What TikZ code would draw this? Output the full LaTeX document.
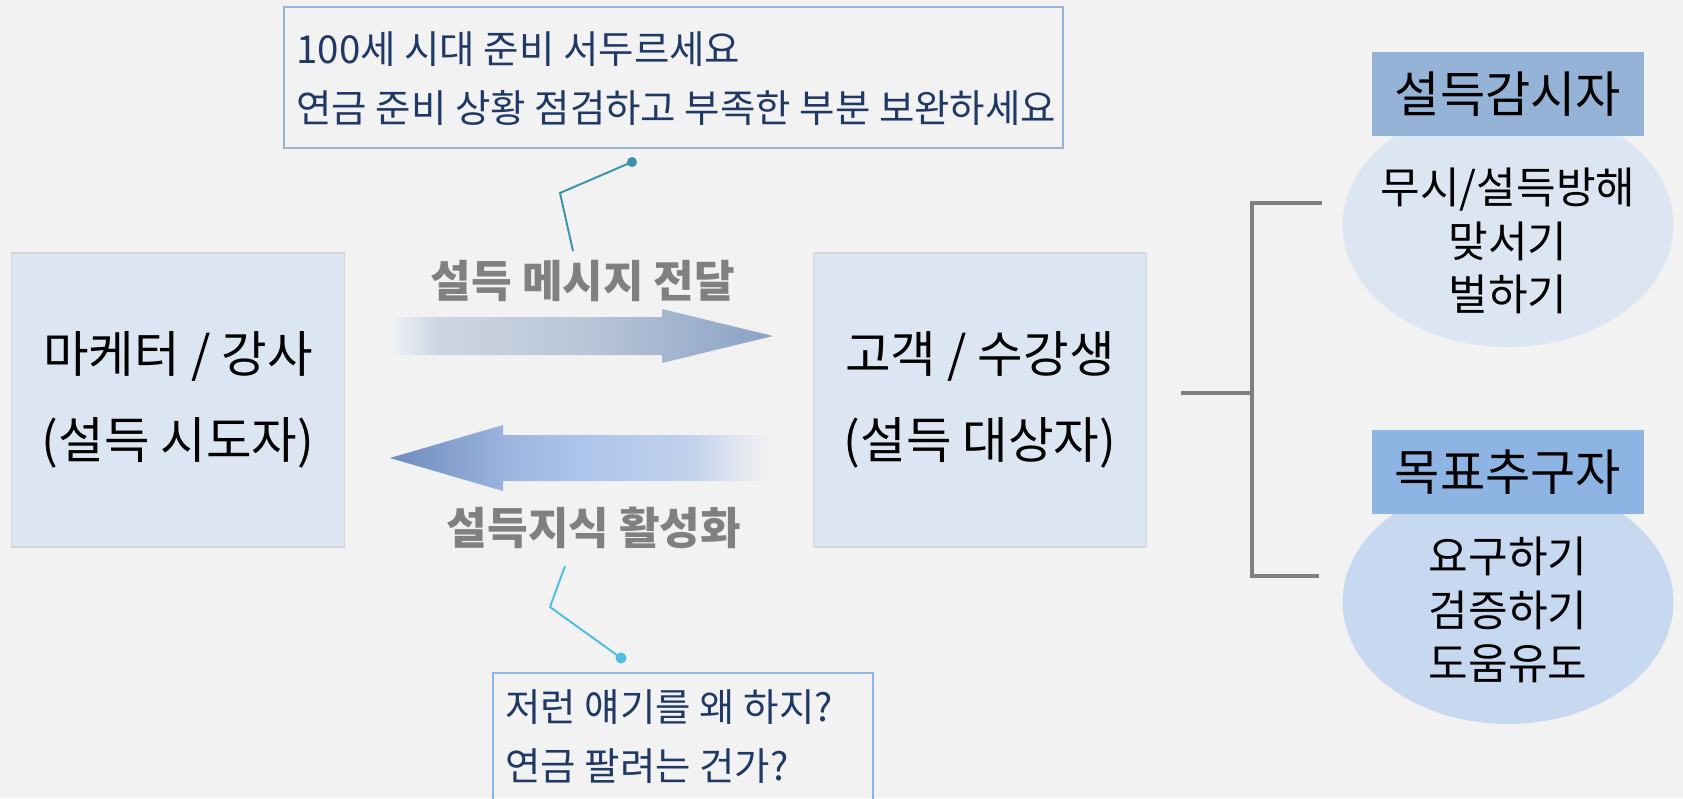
\documentclass[tikz,border=0pt]{standalone}
\usepackage{fontspec}
\setmainfont{Noto Sans CJK KR}
\usetikzlibrary{shapes.geometric}
\definecolor{bgc}{RGB}{242,242,242}
\definecolor{boxfill}{RGB}{220,230,242}
\definecolor{boxline}{RGB}{214,214,214}
\definecolor{navy}{RGB}{31,56,100}
\definecolor{notebd1}{RGB}{149,179,215}
\definecolor{notebd2}{RGB}{142,180,227}
\definecolor{teal1}{RGB}{58,146,172}
\definecolor{cyan1}{RGB}{78,190,224}
\definecolor{role1}{RGB}{149,179,215}
\definecolor{role2}{RGB}{142,180,227}
\definecolor{oval1}{RGB}{220,230,242}
\definecolor{oval2}{RGB}{198,217,241}
\definecolor{ra1}{RGB}{238,240,243}
\definecolor{ra2}{RGB}{205,213,226}
\definecolor{ra3}{RGB}{185,198,216}
\definecolor{ra4}{RGB}{138,162,198}
\definecolor{la1}{RGB}{108,138,188}
\definecolor{la2}{RGB}{155,180,222}
\definecolor{la3}{RGB}{172,197,235}
\definecolor{la4}{RGB}{195,210,236}
\definecolor{la5}{RGB}{222,228,240}
\pgfdeclarehorizontalshading{sendshade}{100bp}{color(0bp)=(bgc); color(25bp)=(ra1); color(31bp)=(ra2); color(50bp)=(ra3); color(75bp)=(ra4); color(100bp)=(ra4)}
\pgfdeclarehorizontalshading{backshade}{100bp}{color(0bp)=(la1); color(25bp)=(la1); color(40bp)=(la2); color(50bp)=(la3); color(65bp)=(la4); color(70bp)=(la5); color(75bp)=(bgc); color(100bp)=(bgc)}
\tikzstyle{party} = [rectangle, minimum width=6.66cm, minimum height=5.88cm, fill=boxfill, draw=boxline, line width=0.9pt, align=center, font=\fontsize{28.2}{49}\selectfont]
\tikzstyle{note} = [align=left, anchor=west, text=navy, inner sep=0pt, font=\fontsize{21.9}{33.5}\selectfont]
\tikzstyle{tag} = [text=black!50, font=\fontsize{25.1}{30}\selectfont\bfseries]
\tikzstyle{role} = [rectangle, minimum width=5.46cm, minimum height=1.68cm, inner sep=0pt, font=\fontsize{28}{32}\selectfont]
\tikzstyle{oval} = [ellipse, minimum width=6.62cm, minimum height=4.88cm, inner sep=0pt]
\tikzstyle{ovaltext} = [align=center, font=\fontsize{24.5}{30.5}\selectfont]
\tikzstyle{brace} = [draw=black!50, line width=2.2pt]

\begin{document}
\begin{tikzpicture}[x=0.02cm,y=-0.02cm]
	\useasboundingbox[fill=bgc] (0,0) rectangle (1683,798);
	\clip (0,0) rectangle (1683,798);
	\node (mkt) at (178,400) [party] {마케터 / 강사\\(설득 시도자)};
	\node (cli) at (980,400) [party] {고객 / 수강생\\(설득 대상자)};
	\shade[shading=sendshade] (393,317) -- (662,317) -- (662,309) -- (773,336) -- (662,363) -- (662,355) -- (393,355) -- cycle;
	\shade[shading=backshade] (772,435) -- (503,435) -- (503,425) -- (390,458) -- (503,491) -- (503,481) -- (772,481) -- cycle;
	\node (msg) at (583,281) [tag] {설득 메시지 전달};
	\node (act) at (594,528) [tag] {설득지식 활성화};
	\draw[draw=notebd1, line width=0.6pt] (284,7) rectangle (1063,148);
	\node (n1) at (296,79) [note] {100세 시대 준비 서두르세요\\연금 준비 상황 점검하고 부족한 부분 보완하세요};
	\draw[draw=notebd2, line width=0.6pt] (493,673) rectangle (873,830);
	\node (n2) at (505,737) [note] {저런 얘기를 왜 하지?\\연금 팔려는 건가?};
	\coordinate (d1) at (632,162);
	\coordinate (k1) at (560,193);
	\coordinate (e1) at (573,251);
	\draw[teal1, line width=1.1pt] (e1) -- (k1) -- (d1);
	\fill[teal1] (d1) circle (5);
	\coordinate (d2) at (621,658);
	\coordinate (k2) at (550,607);
	\coordinate (e2) at (565,566);
	\draw[cyan1, line width=1.1pt] (e2) -- (k2) -- (d2);
	\fill[cyan1] (d2) circle (5.5);
	\coordinate (b0) at (1181,393);
	\coordinate (b1) at (1252,393);
	\draw[brace] (b0) -- (b1);
	\draw[brace] (1322,203) -- (1252,203) -- (1252,576) -- (1319,576);
	\node (o1) at (1508,225) [oval, fill=oval1] {};
	\node (o2) at (1508,602) [oval, fill=oval2] {};
	\node (g1) at (1508,94) [role, fill=role1] {설득감시자};
	\node (g2) at (1508,472) [role, fill=role2] {목표추구자};
	\node (t1) at (1508,241) [ovaltext] {무시/설득방해\\맞서기\\벌하기};
	\node (t2) at (1508,610) [ovaltext] {요구하기\\검증하기\\도움유도};
\end{tikzpicture}
\end{document}
